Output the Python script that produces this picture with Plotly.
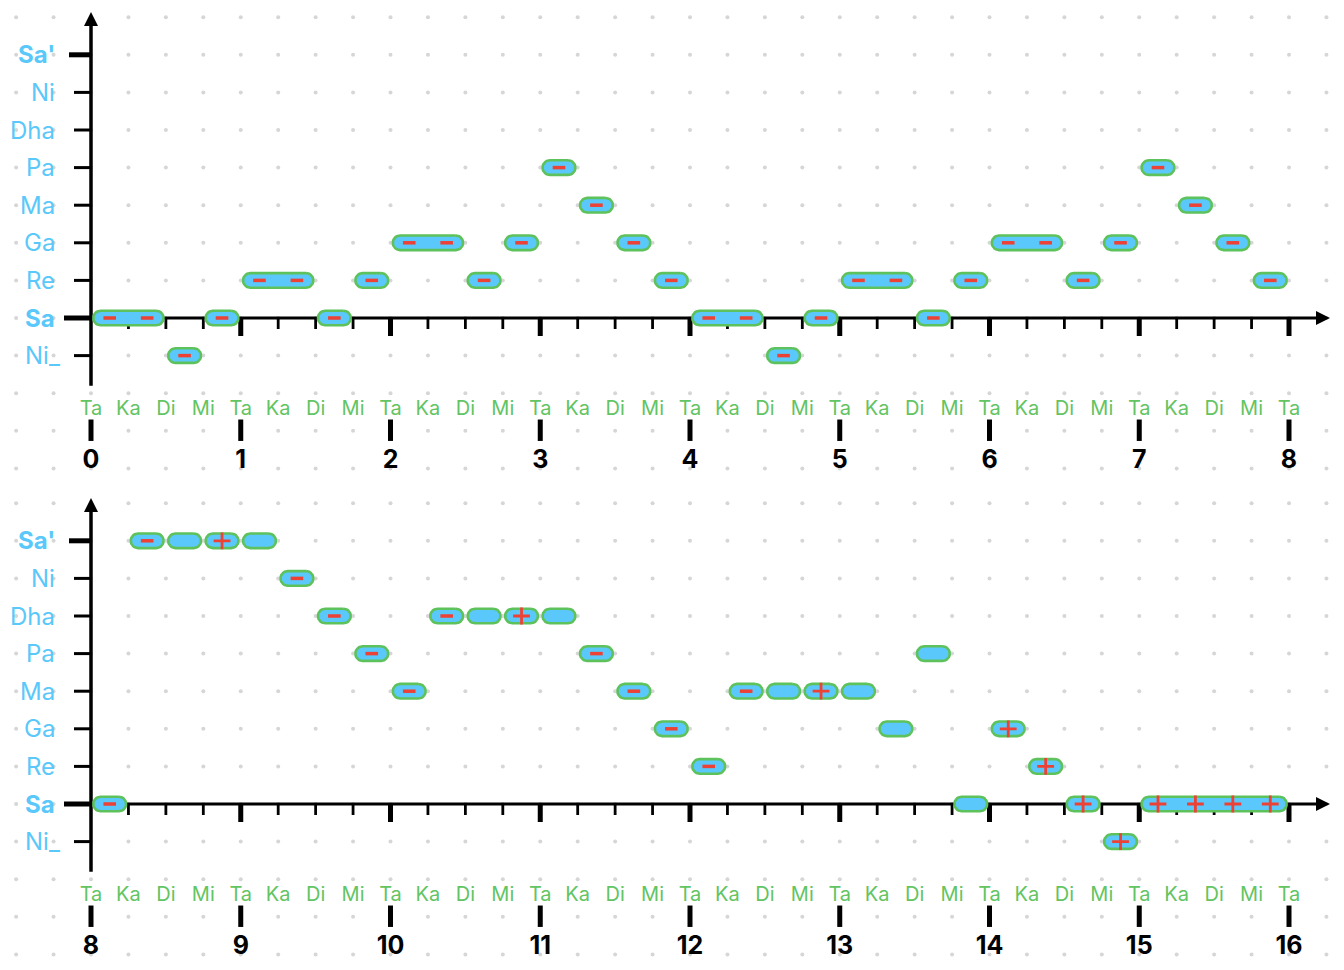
import numpy as np
import plotly.graph_objects as go

# ---------------- data ----------------
swara_order = ["Ni_", "Sa", "Re", "Ga", "Ma", "Pa", "Dha", "Ni", "Sa'"]
swara_levels = [-1, 0, 1, 2, 3, 4, 5, 6, 7]
bold_swaras = ["Sa", "Sa'"]
sub_beat_names = ["Ta", "Ka", "Di", "Mi"]
beats_per_row = 8
row_start_beats = [0, 8]

# durations in quarter beats (aksharas); marks: one char per quarter beat ("." = none)
row1_swaras = ["Sa", "Ni_", "Sa", "Re", "Sa", "Re", "Ga", "Re", "Ga", "Pa", "Ma", "Ga", "Re",
               "Sa", "Ni_", "Sa", "Re", "Sa", "Re", "Ga", "Re", "Ga", "Pa", "Ma", "Ga", "Re"]
row1_durations = [2, 1, 1, 2, 1, 1, 2, 1, 1, 1, 1, 1, 1,
                  2, 1, 1, 2, 1, 1, 2, 1, 1, 1, 1, 1, 1]
row1_marks = ["--", "-", "-", "--", "-", "-", "--", "-", "-", "-", "-", "-", "-",
              "--", "-", "-", "--", "-", "-", "--", "-", "-", "-", "-", "-", "-"]

row2_swaras = ["Sa", "Sa'", "Sa'", "Sa'", "Sa'", "Ni", "Dha", "Pa", "Ma",
               "Dha", "Dha", "Dha", "Dha", "Pa", "Ma", "Ga", "Re",
               "Ma", "Ma", "Ma", "Ma", "Ga", "Pa", "Sa",
               "Ga", "Re", "Sa", "Ni_", "Sa"]
row2_durations = [1, 1, 1, 1, 1, 1, 1, 1, 1,
                  1, 1, 1, 1, 1, 1, 1, 1,
                  1, 1, 1, 1, 1, 1, 1,
                  1, 1, 1, 1, 4]
row2_marks = ["-", "-", ".", "+", ".", "-", "-", "-", "-",
              "-", ".", "+", ".", "-", "-", "-", "-",
              "-", ".", "+", ".", ".", ".", ".",
              "+", "+", "+", "+", "++++"]

# ---------------- style / geometry ----------------
W, H = 1344, 970
PPB = 149.75      # pixels per beat
PPS = 37.6        # pixels per swara step
ORIGIN_PX = 91
ROW_SA_PX = [318, 804]
ROW_TOP_PX = [0, 485]
ROW_H = 485

BLUE = "#5AC8FA"
GREEN = "#62C462"
PILL_EDGE = "#5EC25C"
RED = "#EE4136"
DOT = "#d6d6d6"
FONT = "Inter"


def dx(px):
    return px / PPB


def dy(px):
    return px / PPS


def segs(pairs_x, pairs_y):
    xs, ys = [], []
    for (x0, x1), (y0, y1) in zip(pairs_x, pairs_y):
        xs += [x0, x1, None]
        ys += [y0, y1, None]
    return xs, ys


fig = go.Figure()
annotations = []
rows = [
    (row_start_beats[0], row1_swaras, row1_durations, row1_marks, "x", "y"),
    (row_start_beats[1], row2_swaras, row2_durations, row2_marks, "x2", "y2"),
]

for b0, swaras, durs, marks, xa, ya in rows:
    # dotted background grid
    gx, gy = np.meshgrid(b0 + np.arange(-2, 34) / 4, np.arange(-4, 9))
    fig.add_trace(go.Scatter(x=gx.ravel(), y=gy.ravel(), mode="markers",
                             marker=dict(size=4, color=DOT), xaxis=xa, yaxis=ya,
                             hoverinfo="skip"))

    # y-axis ticks
    tick_len = {"Sa'": 22, "Sa": 27}
    thin = [s for s in swara_order if s not in bold_swaras]
    thick = [s for s in swara_order if s in bold_swaras]
    for group, wdt in ((thin, 3), (thick, 5)):
        px_ = [(b0 - dx(tick_len.get(s, 17)), b0) for s in group]
        py_ = [(swara_levels[swara_order.index(s)],) * 2 for s in group]
        xs, ys = segs(px_, py_)
        fig.add_trace(go.Scatter(x=xs, y=ys, mode="lines", line=dict(color="black", width=wdt),
                                 xaxis=xa, yaxis=ya, hoverinfo="skip"))

    # x-axis minor / major ticks
    minor = [b0 + k / 4 for k in range(1, beats_per_row * 4) if k % 4]
    major = [b0 + k for k in range(1, beats_per_row + 1)]
    xs, ys = segs([(m, m) for m in minor], [(0, -dy(11))] * len(minor))
    fig.add_trace(go.Scatter(x=xs, y=ys, mode="lines", line=dict(color="black", width=2.8),
                             xaxis=xa, yaxis=ya, hoverinfo="skip"))
    xs, ys = segs([(m, m) for m in major], [(0, -dy(18))] * len(major))
    fig.add_trace(go.Scatter(x=xs, y=ys, mode="lines", line=dict(color="black", width=5),
                             xaxis=xa, yaxis=ya, hoverinfo="skip"))

    # axis lines
    fig.add_trace(go.Scatter(x=[b0, b0], y=[-1.8, 7.9], mode="lines",
                             line=dict(color="black", width=3.5), xaxis=xa, yaxis=ya, hoverinfo="skip"))
    fig.add_trace(go.Scatter(x=[b0, b0 + 8.2], y=[0, 0], mode="lines",
                             line=dict(color="black", width=3.2), xaxis=xa, yaxis=ya, hoverinfo="skip"))
    fig.add_trace(go.Scatter(x=[b0], y=[8.14], mode="markers",
                             marker=dict(symbol="arrow-up", size=14, color="black"),
                             xaxis=xa, yaxis=ya, hoverinfo="skip"))
    fig.add_trace(go.Scatter(x=[b0 + 8.274], y=[0], mode="markers",
                             marker=dict(symbol="arrow-right", size=14, color="black"),
                             xaxis=xa, yaxis=ya, hoverinfo="skip"))

    # beat-number bars
    beats = [b0 + k for k in range(beats_per_row + 1)]
    xs, ys = segs([(b, b) for b in beats], [(-2.7, -3.27)] * len(beats))
    fig.add_trace(go.Scatter(x=xs, y=ys, mode="lines", line=dict(color="black", width=5),
                             xaxis=xa, yaxis=ya, hoverinfo="skip"))

    # sub-beat labels
    subs = [b0 + k / 4 for k in range(beats_per_row * 4 + 1)]
    fig.add_trace(go.Scatter(x=subs, y=[-2.45] * len(subs), mode="text",
                             text=[sub_beat_names[k % 4] for k in range(len(subs))],
                             textfont=dict(family=FONT, size=20, color=GREEN),
                             textposition="middle center", xaxis=xa, yaxis=ya, hoverinfo="skip"))
    # beat numbers
    fig.add_trace(go.Scatter(x=beats, y=[-3.82] * len(beats), mode="text",
                             text=[f"<b>{int(b)}</b>" for b in beats],
                             textfont=dict(family=FONT, size=25, color="black"),
                             textposition="middle center", xaxis=xa, yaxis=ya, hoverinfo="skip"))

    # notes (pills)
    durs_a = np.array(durs, dtype=float)
    starts = b0 + np.concatenate([[0], np.cumsum(durs_a)[:-1]]) / 4
    ends = starts + durs_a / 4
    levels = [swara_levels[swara_order.index(s)] for s in swaras]
    r_px, inset = 7.3, 2.3
    th_r = np.linspace(np.pi / 2, -np.pi / 2, 15)
    th_l = np.linspace(-np.pi / 2, -3 * np.pi / 2, 15)
    px_all, py_all = [], []
    for s, e, lv in zip(starts, ends, levels):
        xl = s + dx(inset + r_px)
        xr = e - dx(inset + r_px)
        xs_ = list(xr + dx(r_px) * np.cos(th_r)) + list(xl + dx(r_px) * np.cos(th_l))
        ys_ = list(lv + dy(r_px) * np.sin(th_r)) + list(lv + dy(r_px) * np.sin(th_l))
        xs_.append(xs_[0]); ys_.append(ys_[0])
        px_all += xs_ + [None]
        py_all += ys_ + [None]
    fig.add_trace(go.Scatter(x=px_all, y=py_all, mode="lines", fill="toself",
                             fillcolor=BLUE, line=dict(color=PILL_EDGE, width=2.6),
                             xaxis=xa, yaxis=ya, hoverinfo="skip"))

    # marks
    mx, my, plx, ply = [], [], [], []
    for s, lv, m in zip(starts, levels, marks):
        for j, ch in enumerate(m):
            xm = s + (j + 0.5) / 4
            if ch == "-":
                mx.append(xm); my.append(lv)
            elif ch == "+":
                plx.append(xm); ply.append(lv)
    fig.add_trace(go.Scatter(x=mx, y=my, mode="markers",
                             marker=dict(symbol="line-ew", size=9, line=dict(color=RED, width=3.5)),
                             xaxis=xa, yaxis=ya, hoverinfo="skip"))
    fig.add_trace(go.Scatter(x=plx, y=ply, mode="markers",
                             marker=dict(symbol="cross-thin", size=12, line=dict(color=RED, width=2.8)),
                             xaxis=xa, yaxis=ya, hoverinfo="skip"))

    # swara labels
    label_right_px = {"Ni_": 62}
    for s, lv in zip(swara_order, swara_levels):
        txt = f"<b>{s}</b>" if s in bold_swaras else s
        annotations.append(dict(x=b0 + dx(label_right_px.get(s, 57) - ORIGIN_PX), y=lv,
                                xref=xa, yref=ya, text=txt, showarrow=False,
                                xanchor="right", yanchor="middle",
                                font=dict(family=FONT, size=24, color=BLUE)))

fig.update_layout(
    width=W, height=H, margin=dict(l=0, r=0, t=0, b=0),
    paper_bgcolor="white", plot_bgcolor="white", showlegend=False,
    annotations=annotations,
    xaxis=dict(domain=[0, 1], anchor="y", visible=False, fixedrange=True,
               range=[row_start_beats[0] - dx(ORIGIN_PX), row_start_beats[0] + dx(W - ORIGIN_PX)]),
    yaxis=dict(domain=[0.5, 1], anchor="x", visible=False, fixedrange=True,
               range=[-dy(ROW_TOP_PX[0] + ROW_H - ROW_SA_PX[0]), dy(ROW_SA_PX[0] - ROW_TOP_PX[0])]),
    xaxis2=dict(domain=[0, 1], anchor="y2", visible=False, fixedrange=True,
                range=[row_start_beats[1] - dx(ORIGIN_PX), row_start_beats[1] + dx(W - ORIGIN_PX)]),
    yaxis2=dict(domain=[0, 0.5], anchor="x2", visible=False, fixedrange=True,
                range=[-dy(ROW_TOP_PX[1] + ROW_H - ROW_SA_PX[1]), dy(ROW_SA_PX[1] - ROW_TOP_PX[1])]),
)

fig.write_html("out.html")
